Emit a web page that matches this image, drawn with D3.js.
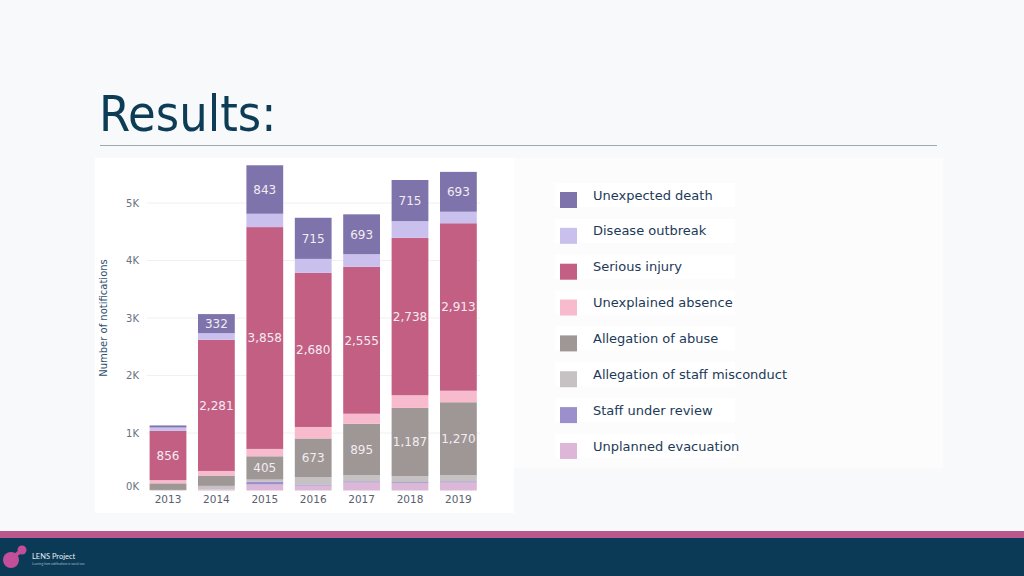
<!DOCTYPE html>
<html><head><meta charset="utf-8">
<script src="https://cdn.jsdelivr.net/npm/d3@7"></script>
<style>
html,body{margin:0;padding:0;background:#f8f9fa;}
svg{display:block;}
</style></head>
<body>
<svg id="c" width="1024" height="576"></svg>
<script>
// ---- data ----
const years = ["2013","2014","2015","2016","2017","2018","2019"];
const seriesNames = ["Unplanned evacuation","Staff under review","Allegation of staff misconduct","Allegation of abuse","Unexplained absence","Serious injury","Disease outbreak","Unexpected death"];
const unplannedEvacuation = [0, 20, 105, 85, 140, 125, 140];
const staffUnderReview = [0, 0, 50, 20, 20, 20, 20];
const staffMisconduct = [10, 60, 35, 127, 105, 105, 105];
const allegationAbuse = [115, 180, 405, 673, 895, 1187, 1270];
const unexplainedAbsence = [55, 80, 128, 200, 175, 220, 200];
const seriousInjury = [856, 2281, 3858, 2680, 2555, 2738, 2913];
const diseaseOutbreak = [60, 115, 232, 243, 220, 290, 200];
const unexpectedDeath = [35, 332, 843, 715, 693, 715, 693];
const yTicks = [0, 1000, 2000, 3000, 4000, 5000];
const legendOrder = ["Unexpected death","Disease outbreak","Serious injury","Unexplained absence","Allegation of abuse","Allegation of staff misconduct","Staff under review","Unplanned evacuation"];
const colors = {
  "Unexpected death":"#7e73ab",
  "Disease outbreak":"#c9c0ee",
  "Serious injury":"#c45f84",
  "Unexplained absence":"#f8bacd",
  "Allegation of abuse":"#9e9795",
  "Allegation of staff misconduct":"#c6c2c3",
  "Staff under review":"#9b90cb",
  "Unplanned evacuation":"#dcb7d8"
};
const seriesValues = [unplannedEvacuation, staffUnderReview, staffMisconduct, allegationAbuse, unexplainedAbsence, seriousInjury, diseaseOutbreak, unexpectedDeath];

const table = years.map((y,i)=>{
  const o = {year:y};
  seriesNames.forEach((s,k)=>o[s]=seriesValues[k][i]);
  return o;
});

const svg = d3.select("#c");
const font = "'DejaVu Sans', Verdana, sans-serif";

// slide title
svg.append("text").attr("x",99).attr("y",131)
  .attr("font-family","'DejaVu Sans Condensed','DejaVu Sans',sans-serif")
  .attr("font-stretch","condensed")
  .attr("font-size",50).attr("fill","#0d3d56").text("Results:");
svg.append("line").attr("x1",100).attr("x2",937).attr("y1",145.5).attr("y2",145.5)
  .attr("stroke","#9ea8af").attr("stroke-width",1.2);

// panels
svg.append("rect").attr("x",95).attr("y",158).attr("width",419).attr("height",355).attr("fill","#ffffff");
svg.append("rect").attr("x",514).attr("y",158).attr("width",429).attr("height",310).attr("fill","#fcfcfd");

// scales
const x = d3.scaleBand().domain(years).range([143.8,482.6]).paddingInner(0.24).paddingOuter(0.12);
const y = d3.scaleLinear().domain([0,5000]).range([490.5,203]);

// grid
svg.append("g").selectAll("line").data(yTicks.filter(d=>d>0)).join("line")
  .attr("x1",147).attr("x2",480)
  .attr("y1",d=>y(d)).attr("y2",d=>y(d))
  .attr("stroke","#f0f0f2").attr("stroke-width",1);

// y axis
const yAxis = d3.axisLeft(y).tickValues(yTicks).tickFormat(d=>(d/1000)+"K").tickSize(0).tickPadding(0);
const ga = svg.append("g").attr("transform","translate(139,0)").call(yAxis);
ga.select(".domain").remove();
ga.selectAll("text").attr("font-family",font).attr("font-size",10).attr("fill","#6a7280")
  .attr("dy",d=>d===0?"-0.1em":"0.32em");

svg.append("text").attr("transform","translate(107,318) rotate(-90)")
  .attr("text-anchor","middle").attr("font-family",font).attr("font-size",10)
  .attr("fill","#2e4e70").text("Number of notifications");

// x axis
const xAxis = d3.axisBottom(x).tickSize(0).tickPadding(0);
const gx = svg.append("g").attr("transform","translate(0,494)").call(xAxis);
gx.select(".domain").remove();
gx.selectAll("text").attr("font-family",font).attr("font-size",10.5).attr("fill","#5a6070").attr("dy","0.9em");

// stacks
const stack = d3.stack().keys(seriesNames)(table);
const gs = svg.append("g");
stack.forEach(layer=>{
  gs.append("g").attr("fill",colors[layer.key]).selectAll("rect").data(layer).join("rect")
    .attr("x",d=>x(d.data.year)).attr("width",x.bandwidth())
    .attr("y",d=>y(d[1])).attr("height",d=>Math.max(0,y(d[0])-y(d[1])));
});
// labels
const labelled = ["Unexpected death","Serious injury","Allegation of abuse"];
stack.filter(l=>labelled.includes(l.key)).forEach(layer=>{
  gs.append("g").selectAll("text").data(layer.filter(d=>d[1]-d[0]>=300)).join("text")
    .attr("x",d=>x(d.data.year)+x.bandwidth()/2)
    .attr("y",d=>(y(d[0])+y(d[1]))/2)
    .attr("dy","0.36em").attr("text-anchor","middle")
    .attr("font-family",font).attr("font-size",12).attr("fill","#f3ecf2")
    .text(d=>d3.format(",")(d[1]-d[0]));
});

// legend
const lg = svg.append("g");
legendOrder.forEach((name,i)=>{
  const cy = 195 + i*35.85;
  lg.append("rect").attr("x",555).attr("y",cy-12).attr("width",180).attr("height",24).attr("fill","#ffffff");
  lg.append("rect").attr("x",560).attr("y",cy-3).attr("width",17).attr("height",16).attr("fill",colors[name]);
  lg.append("text").attr("x",593).attr("y",cy).attr("dy","0.35em")
    .attr("font-family",font).attr("font-size",13).attr("fill","#1c3a58").text(name);
});

// footer
svg.append("rect").attr("x",0).attr("y",531).attr("width",1024).attr("height",7).attr("fill","#b8588c");
svg.append("rect").attr("x",0).attr("y",538).attr("width",1024).attr("height",38).attr("fill","#0b3a56");
svg.append("circle").attr("cx",11).attr("cy",560).attr("r",8).attr("fill","#c34f9a");
svg.append("circle").attr("cx",22).attr("cy",550).attr("r",4.5).attr("fill","#c34f9a");
svg.append("line").attr("x1",12).attr("y1",558).attr("x2",21).attr("y2",551).attr("stroke","#c34f9a").attr("stroke-width",4);
svg.append("text").attr("x",32).attr("y",559).attr("font-family","Lato, sans-serif").attr("font-size",7.5).attr("fill","#e8eef4").text("LENS Project");
svg.append("text").attr("x",32).attr("y",565).attr("font-family","Lato, sans-serif").attr("font-size",3).attr("fill","#aab8c8").text("Learning from notifications in social care");
</script>
</body></html>
